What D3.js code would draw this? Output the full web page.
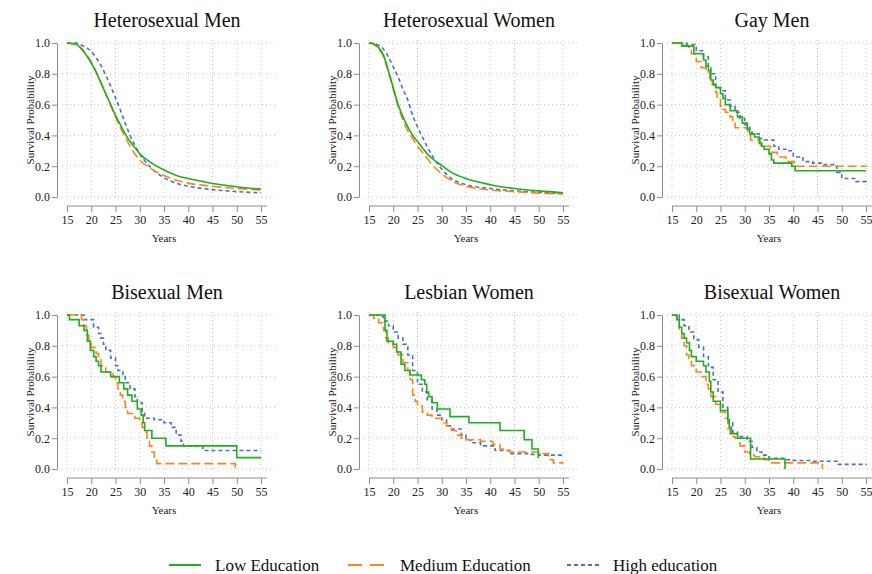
<!DOCTYPE html>
<html><head>
<meta charset="utf-8">
<script src="https://d3js.org/d3.v7.min.js"></script>
<style>
  body { margin: 0; background: #fff; }
  svg { font-family: "Liberation Serif", "Times New Roman", serif; }
  line.grid { stroke: #c8c8c8; stroke-width: 1px; stroke-dasharray: 1,3; }
  .axis path, .axis line { stroke: #8c8c8c; }
  .axis text { font-size: 12px; fill: #222; }
</style>
</head>
<body>
<svg id="chart" width="872" height="574"></svg>
<script>
// ---- data: [age, survival probability] ----
const titles = ["Heterosexual Men", "Heterosexual Women", "Gay Men",
                "Bisexual Men", "Lesbian Women", "Bisexual Women"];
const eduLabels = ["Low Education", "Medium Education", "High education"];
const xTicks = [15, 20, 25, 30, 35, 40, 45, 50, 55];
const yTicks = [0, 0.2, 0.4, 0.6, 0.8, 1.0];

const hetMenLow = [[15,1],[17,0.99],[18,0.96],[19,0.92],[20,0.87],[21,0.81],[22,0.74],[23,0.67],[24,0.6],[25,0.53],[26,0.47],[27,0.41],[28,0.36],[29,0.32],[30,0.28],[32,0.23],[35,0.175],[38,0.135],[40,0.12],[45,0.088],[50,0.067],[55,0.05]];
const hetMenMed = [[15,1],[17,0.99],[18,0.965],[19,0.925],[20,0.875],[21,0.815],[22,0.745],[23,0.67],[24,0.595],[25,0.52],[26,0.45],[27,0.39],[28,0.33],[29,0.28],[30,0.24],[32,0.19],[35,0.14],[38,0.105],[40,0.09],[45,0.07],[50,0.055],[55,0.045]];
const hetMenHigh = [[15,1],[17,1],[18,0.985],[19,0.97],[20,0.945],[21,0.905],[22,0.855],[23,0.79],[24,0.72],[25,0.645],[26,0.565],[27,0.48],[28,0.4],[29,0.335],[30,0.28],[32,0.2],[35,0.125],[38,0.085],[40,0.07],[45,0.048],[50,0.035],[55,0.027]];

const hetWomLow = [[15,1],[16,0.995],[17,0.97],[18,0.92],[19,0.82],[20,0.71],[21,0.6],[22,0.52],[23,0.455],[24,0.4],[25,0.36],[26,0.32],[27,0.28],[28,0.25],[30,0.205],[32,0.16],[35,0.12],[40,0.08],[45,0.055],[50,0.04],[55,0.028]];
const hetWomMed = [[15,1],[16,0.99],[17,0.96],[18,0.91],[19,0.81],[20,0.7],[21,0.59],[22,0.5],[23,0.43],[24,0.38],[25,0.33],[26,0.29],[27,0.25],[28,0.21],[30,0.15],[33,0.09],[35,0.07],[40,0.045],[45,0.035],[50,0.025],[55,0.02]];
const hetWomHigh = [[15,1],[16,0.995],[17,0.985],[18,0.96],[19,0.91],[20,0.845],[21,0.78],[22,0.7],[23,0.63],[24,0.53],[25,0.455],[26,0.39],[27,0.325],[28,0.27],[30,0.18],[32,0.12],[35,0.08],[40,0.055],[45,0.04],[50,0.03],[55,0.022]];

const gayMenLow = [[15,1],[17,0.98],[19.5,0.93],[21.5,0.89],[22,0.85],[22.5,0.82],[23,0.76],[23.5,0.73],[24,0.71],[25,0.67],[25.5,0.64],[26,0.6],[27,0.56],[28.5,0.52],[29.5,0.48],[30.5,0.44],[31,0.41],[32,0.39],[33,0.35],[33.5,0.33],[34,0.31],[35,0.28],[35.5,0.24],[36,0.22],[39.7,0.2],[40.4,0.17],[55,0.17]];
const gayMenMed = [[15,1],[17.5,0.98],[18.5,0.96],[19,0.93],[20,0.88],[21,0.84],[22,0.81],[22.8,0.77],[23.3,0.73],[24,0.68],[24.3,0.64],[25,0.59],[25.5,0.57],[26,0.55],[27,0.52],[27.5,0.48],[28,0.45],[30.6,0.41],[31.2,0.37],[33.2,0.33],[35.3,0.29],[36.7,0.26],[38.5,0.23],[40.2,0.2],[55,0.195]];
const gayMenHigh = [[15,1],[18,0.99],[20,0.95],[21.5,0.91],[22.5,0.85],[23,0.8],[24,0.71],[25,0.69],[26,0.63],[27,0.59],[28,0.55],[29,0.51],[30,0.47],[31,0.44],[31.5,0.41],[33,0.38],[34,0.37],[36,0.33],[37,0.31],[38.5,0.3],[40,0.26],[42,0.23],[44,0.22],[46,0.21],[48.5,0.2],[49,0.16],[50,0.12],[53,0.1],[55,0.09]];

const biMenLow = [[15,1],[15.5,0.97],[17.5,0.93],[18.5,0.9],[19.2,0.83],[19.8,0.77],[20.5,0.73],[21,0.7],[21.5,0.67],[22,0.63],[24,0.6],[25.8,0.56],[26.7,0.52],[27.5,0.48],[28.4,0.44],[29.5,0.39],[30.3,0.35],[30.7,0.3],[31,0.25],[32.5,0.2],[35.4,0.15],[50,0.074],[55,0.074]];
const biMenMed = [[15,1],[18,0.97],[18.5,0.93],[19,0.87],[19.5,0.83],[20,0.79],[21,0.75],[21.5,0.71],[22,0.67],[23,0.63],[24.5,0.6],[25,0.56],[25.5,0.52],[26,0.48],[26.5,0.44],[27,0.4],[27.5,0.36],[29,0.33],[30,0.3],[30.5,0.27],[31,0.24],[31.5,0.2],[32,0.15],[32.5,0.11],[33,0.07],[33.5,0.035],[49.7,0]];
const biMenHigh = [[15,1],[18,1],[18.5,0.97],[20.5,0.92],[21.5,0.88],[22,0.85],[22.5,0.81],[23,0.77],[24,0.72],[25,0.67],[25.5,0.64],[26.5,0.6],[27,0.56],[28,0.52],[29,0.47],[29.5,0.43],[30.5,0.37],[31,0.33],[33,0.32],[35,0.3],[36.5,0.27],[37.5,0.22],[38.5,0.18],[39,0.15],[43,0.12],[55,0.12]];

const lesWomLow = [[15,1],[18.3,0.9],[18.7,0.83],[20,0.81],[20.7,0.76],[21.6,0.68],[22.4,0.64],[23.4,0.61],[25.8,0.58],[26.5,0.55],[26.9,0.5],[27.3,0.47],[28,0.43],[29.1,0.39],[31.7,0.34],[35.6,0.3],[42,0.25],[47,0.19],[48.6,0.13],[49.9,0.07]];
const lesWomMed = [[15,1],[16,0.98],[17,0.95],[18,0.9],[18.5,0.85],[19,0.82],[20,0.79],[21,0.74],[22,0.69],[23,0.64],[23.5,0.58],[24,0.48],[24.5,0.44],[25,0.41],[26,0.37],[27,0.35],[28,0.33],[30,0.3],[31,0.28],[32,0.25],[33,0.22],[34,0.2],[35,0.19],[38,0.18],[40.5,0.16],[42,0.13],[43,0.12],[44,0.11],[47,0.11],[50,0.1],[52,0.06],[53,0.04],[55,0.035]];
const lesWomHigh = [[15,1],[17,0.99],[18,0.96],[19,0.93],[20,0.89],[21,0.85],[22,0.81],[23,0.74],[24,0.64],[25,0.55],[26,0.5],[27,0.45],[28,0.39],[29,0.35],[30,0.32],[31,0.28],[32,0.26],[34,0.22],[35,0.19],[36,0.17],[38,0.15],[41,0.12],[44,0.1],[48,0.095],[50,0.09],[55,0.085]];

const biWomLow = [[15,1],[16,0.97],[16.5,0.92],[17,0.88],[17.5,0.85],[18,0.82],[18.6,0.77],[19,0.73],[20,0.7],[21.5,0.67],[22,0.63],[22.7,0.57],[23,0.5],[23.5,0.44],[25,0.38],[26.5,0.32],[26.8,0.27],[27.2,0.23],[28.5,0.2],[31.2,0.065],[38.3,0]];
const biWomMed = [[15,1],[16,0.96],[16.5,0.9],[17,0.85],[17.5,0.8],[18,0.74],[18.5,0.7],[19,0.67],[20,0.63],[21,0.6],[22,0.55],[22.5,0.52],[23,0.47],[24,0.42],[25,0.37],[26,0.33],[26.5,0.26],[27,0.21],[28,0.2],[29,0.15],[30,0.11],[31,0.09],[32,0.08],[34,0.06],[35,0.04],[46,0]];
const biWomHigh = [[15,1],[16.5,0.97],[17.5,0.93],[18.5,0.89],[19.5,0.84],[20.5,0.79],[21.5,0.73],[22.5,0.66],[23.5,0.58],[24.5,0.5],[25.5,0.4],[26.5,0.3],[27.5,0.24],[28.5,0.21],[30.5,0.18],[31.5,0.14],[32.5,0.11],[33.5,0.09],[35,0.07],[38,0.06],[40,0.055],[44,0.05],[49,0.03],[55,0.025]];

const panelSeries = [
  [hetMenLow, hetMenMed, hetMenHigh],
  [hetWomLow, hetWomMed, hetWomHigh],
  [gayMenLow, gayMenMed, gayMenHigh],
  [biMenLow, biMenMed, biMenHigh],
  [lesWomLow, lesWomMed, lesWomHigh],
  [biWomLow, biWomMed, biWomHigh]
];
// the two big groups are smooth, the small ones are Kaplan-Meier steps
const smooth = [true, true, false, false, false, false];

const colors = ["#1fae1f", "#ff8418", "#4a72c2"];
const dashes = [null, "9,4", "4,3"];
const serif = '"Liberation Serif", "Times New Roman", serif';

const svg = d3.select("#chart");
const colX = [67, 369, 672];   // pixel of age 15 in each column
const rowY = [43, 315];        // pixel of prob 1.0 in each row
const pw = 194, ph = 154;

panelSeries.forEach((series, i) => {
  const g = svg.append("g")
    .attr("transform", `translate(${colX[i % 3]},${rowY[Math.floor(i / 3)]})`);
  const x = d3.scaleLinear().domain([15, 55]).range([0, pw]);
  const y = d3.scaleLinear().domain([0, 1]).range([ph, 0]);

  // dotted grid
  g.selectAll("line.gx").data(xTicks).join("line")
    .attr("class", "grid")
    .attr("x1", d => x(d)).attr("x2", d => x(d))
    .attr("y1", -3).attr("y2", ph + 3);
  g.selectAll("line.gy").data(yTicks).join("line")
    .attr("class", "grid")
    .attr("x1", -5).attr("x2", pw + 16)
    .attr("y1", d => y(d)).attr("y2", d => y(d));

  // axes, detached from the plot
  g.append("g").attr("class", "axis")
    .attr("transform", "translate(-10,0)")
    .call(d3.axisLeft(y).tickValues(yTicks).tickFormat(d3.format(".1f"))
      .tickSize(5).tickSizeOuter(0).tickPadding(2))
    .attr("font-family", serif).attr("font-size", 12);
  const xa = g.append("g").attr("class", "axis")
    .attr("transform", `translate(0,${ph + 9})`)
    .call(d3.axisBottom(x).tickValues(xTicks).tickSize(6).tickSizeOuter(0).tickPadding(3))
    .attr("font-family", serif).attr("font-size", 12);
  xa.select(".domain").attr("d", `M0,0H${pw + 6}`);

  g.append("text")
    .attr("x", -37).attr("y", ph / 2)
    .attr("transform", `rotate(-90,-37,${ph / 2})`)
    .attr("text-anchor", "middle").attr("dy", "0.35em")
    .attr("font-family", serif)
    .attr("font-size", 11).attr("fill", "#222")
    .text("Survival Probability");
  g.append("text")
    .attr("x", pw / 2).attr("y", ph + 45)
    .attr("text-anchor", "middle")
    .attr("font-family", serif)
    .attr("font-size", 11).attr("fill", "#222")
    .text("Years");
  g.append("text")
    .attr("x", pw / 2 + 3).attr("y", -16)
    .attr("text-anchor", "middle")
    .attr("font-family", serif)
    .attr("font-size", 20).attr("fill", "#111")
    .text(titles[i]);

  const line = d3.line()
    .x(d => x(d[0])).y(d => y(d[1]))
    .curve(smooth[i] ? d3.curveMonotoneX : d3.curveStepAfter);

  // draw high first so low sits on top
  [2, 1, 0].forEach(k => {
    g.append("path")
      .attr("d", line(series[k]))
      .attr("fill", "none")
      .attr("stroke", colors[k])
      .attr("stroke-width", 1.6)
      .attr("stroke-dasharray", dashes[k]);
  });
});

// legend
const legX = [169, 348, 567];
const leg = svg.append("g").attr("transform", "translate(0,565)");
eduLabels.forEach((lab, k) => {
  leg.append("line")
    .attr("x1", legX[k]).attr("x2", legX[k] + (k === 1 ? 37 : 32))
    .attr("y1", 0).attr("y2", 0)
    .attr("stroke", colors[k]).attr("stroke-width", 2)
    .attr("stroke-dasharray", k === 1 ? "14,8" : dashes[k]);
  leg.append("text")
    .attr("x", legX[k] + (k === 1 ? 52 : 46)).attr("y", 0)
    .attr("dy", "0.35em")
    .attr("font-family", serif)
    .attr("font-size", 17).attr("fill", "#111")
    .text(lab);
});
</script>
</body>
</html>
